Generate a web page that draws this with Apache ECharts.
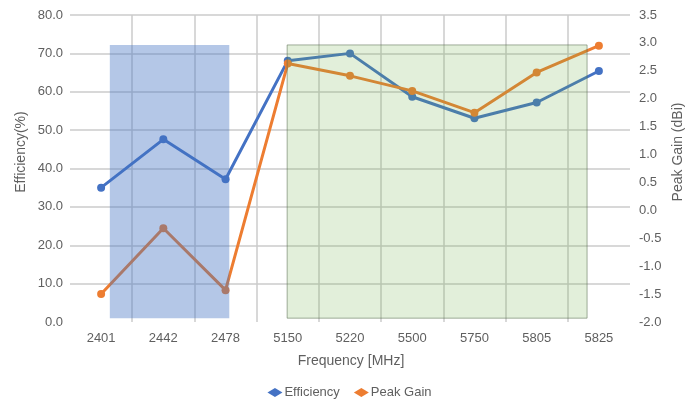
<!DOCTYPE html>
<html>
<head>
<meta charset="utf-8">
<script src="https://cdn.jsdelivr.net/npm/echarts@6/dist/echarts.min.js"></script>
<style>
html,body{margin:0;padding:0;background:#fff;}
#c{width:699px;height:401px;}
</style>
</head>
<body>
<div id="c"></div>
<script>
var categories = ['2401','2442','2478','5150','5220','5500','5750','5805','5825'];
var efficiency = [35.0, 47.6, 37.2, 68.1, 70.0, 58.7, 53.1, 57.2, 65.4];
var peakGain = [-1.5, -0.32, -1.43, 2.63, 2.41, 2.14, 1.75, 2.47, 2.95];
// shaded bands: [xStart, xEnd, yBottom, yTop] in category-slot units / efficiency units
var blueBand = [0.64, 2.56, 1.0, 72.2];
var greenBand = [3.49, 8.31, 1.0, 72.2];

var FONT = 'Liberation Sans, Arial, sans-serif';
var TXT = '#5f5f5f';
var GRID = '#cbcbcb';

var chart = echarts.init(document.getElementById('c'), null, {renderer:'canvas'});
chart.setOption({
  animation:false,
  textStyle:{fontFamily:FONT},
  grid:{left:70, right:69, top:15, bottom:79, containLabel:false},
  legend:{
    data:['Efficiency','Peak Gain'],
    top:381, left:'center', icon:'diamond',
    itemWidth:15, itemHeight:9, itemGap:14,
    textStyle:{color:TXT, fontSize:13, fontFamily:FONT, padding:[0,0,0,-3]}
  },
  xAxis:[{
    type:'category', data:categories, boundaryGap:true,
    axisLine:{show:false},
    axisTick:{show:false},
    axisLabel:{color:TXT, fontSize:13, margin:10},
    splitLine:{show:true, showMinLine:false, showMaxLine:false, lineStyle:{color:GRID, width:1.5}}
  },{
    type:'value', min:0, max:9, show:false
  }],
  yAxis:[{
    type:'value', min:0, max:80, interval:10, position:'left',
    axisLine:{show:false}, axisTick:{show:false},
    axisLabel:{color:TXT, fontSize:13, margin:7, formatter:function(v){return v.toFixed(1);}},
    splitLine:{show:true, showMinLine:false, lineStyle:{color:GRID, width:1.5}}
  },{
    type:'value', min:-2, max:3.5, interval:0.5, position:'right',
    axisLine:{show:false}, axisTick:{show:false},
    axisLabel:{color:TXT, fontSize:13, margin:9, formatter:function(v){return v.toFixed(1);}},
    splitLine:{show:false}
  }],
  graphic:[
    {type:'text', rotation:Math.PI/2,
     style:{text:'Efficiency(%)', fill:TXT, font:'14px '+FONT, textAlign:'center', textVerticalAlign:'middle'},
     x:21, y:152},
    {type:'text', rotation:Math.PI/2,
     style:{text:'Peak Gain (dBi)', fill:TXT, font:'14px '+FONT, textAlign:'center', textVerticalAlign:'middle'},
     x:678, y:152},
    {type:'text',
     style:{text:'Frequency [MHz]', fill:TXT, font:'14px '+FONT, textAlign:'center', textVerticalAlign:'middle'},
     x:351, y:361}
  ],
  series:[{
    name:'Efficiency', type:'line', data:efficiency, xAxisIndex:0, yAxisIndex:0,
    color:'#4472c4', symbol:'circle', symbolSize:8, lineStyle:{width:3}, z:2
  },{
    name:'Peak Gain', type:'line', data:peakGain, xAxisIndex:0, yAxisIndex:1,
    color:'#ed7d31', symbol:'circle', symbolSize:8, lineStyle:{width:3}, z:3
  },{
    type:'custom', xAxisIndex:1, yAxisIndex:0, z:10, silent:true,
    data:[blueBand.concat([0]), greenBand.concat([1])],
    renderItem:function(params, api){
      var p0 = api.coord([api.value(0), api.value(3)]);
      var p1 = api.coord([api.value(1), api.value(2)]);
      var isGreen = api.value(4) === 1;
      return {
        type:'rect',
        shape:{x:p0[0], y:p0[1], width:p1[0]-p0[0], height:p1[1]-p0[1]},
        style: isGreen ? {fill:'rgba(112,173,71,0.2)', stroke:'rgba(90,110,80,0.55)', lineWidth:1}
                       : {fill:'rgba(68,114,196,0.4)', stroke:null}
      };
    }
  }]
});
</script>
</body>
</html>
